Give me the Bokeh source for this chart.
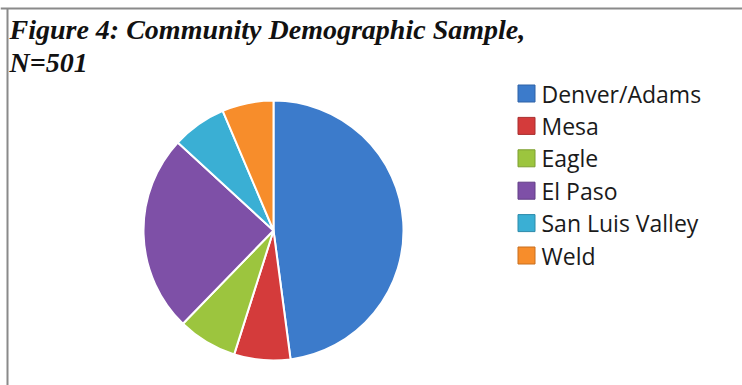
import numpy as np
from bokeh.plotting import figure
from bokeh.models import ColumnDataSource
from bokeh.core.properties import value
from bokeh.embed import file_html
from bokeh.resources import INLINE

# ---- data ----
categories = ["Denver/Adams", "Mesa", "Eagle", "El Paso", "San Luis Valley", "Weld"]
counts = [240, 35, 37, 123, 34, 32]
colors = ["#3C7BCB", "#D43B3B", "#9CC53E", "#7E50A7", "#3AAFD4", "#F78D2B"]
edge_colors = ["#2F63A6", "#A82E2E", "#7C9E30", "#623E86", "#2C8BAA", "#C86F1F"]
title_lines = ["Figure 4: Community Demographic Sample,", "N=501"]

W, H = 742, 385
p = figure(width=W, height=H, x_range=(0, W), y_range=(0, H),
           output_backend="svg", toolbar_location=None, min_border=0)
p.axis.visible = False
p.grid.visible = False
p.outline_line_color = None
p.background_fill_color = "white"
p.border_fill_color = "white"

# ---- pie ----
vals = np.array(counts, dtype=float)
frac = vals / vals.sum()
cum = np.cumsum(frac)
prev = np.concatenate([[0.0], cum[:-1]])
start = np.pi / 2 - prev * 2 * np.pi
end = np.pi / 2 - cum * 2 * np.pi
cx, cy, r = 273, H - 230, 130
src = ColumnDataSource(dict(cat=categories, start=start, end=end, color=colors))
p.wedge(x=cx, y=cy, radius=r, start_angle="start", end_angle="end",
        direction="clock", fill_color="color", line_color="white",
        line_width=2, source=src)

# ---- legend ----
n = len(categories)
ly = [H - (93 + i * 32.4) for i in range(n)]
lsrc = ColumnDataSource(dict(y=ly, cat=categories, color=colors, edge=edge_colors,
                             sx=[526] * n, tx=[541] * n))
p.rect(x="sx", y="y", width=17, height=17, fill_color="color", line_color="edge",
       line_width=1, source=lsrc)
p.text(x="tx", y="y", text="cat", text_font=value("Open Sans"),
       text_font_size="23px", text_baseline="middle", text_color="#1a1a1a",
       source=lsrc)

# ---- title ----
tsrc = ColumnDataSource(dict(x=[9, 9], y=[H - 29, H - 62], t=title_lines))
p.text(x="x", y="y", text="t", text_font=value("Liberation Serif"),
       text_font_style="bold italic", text_font_size="28px",
       text_baseline="alphabetic", text_color="#111111", source=tsrc)

# ---- frame lines ----
p.segment(x0=[0, 7], y0=[H - 8, H - 8], x1=[W, 7], y1=[H - 8, 0],
          line_color="#8a8a8a", line_width=2)

open("out.html", "w").write(file_html(p, INLINE))
